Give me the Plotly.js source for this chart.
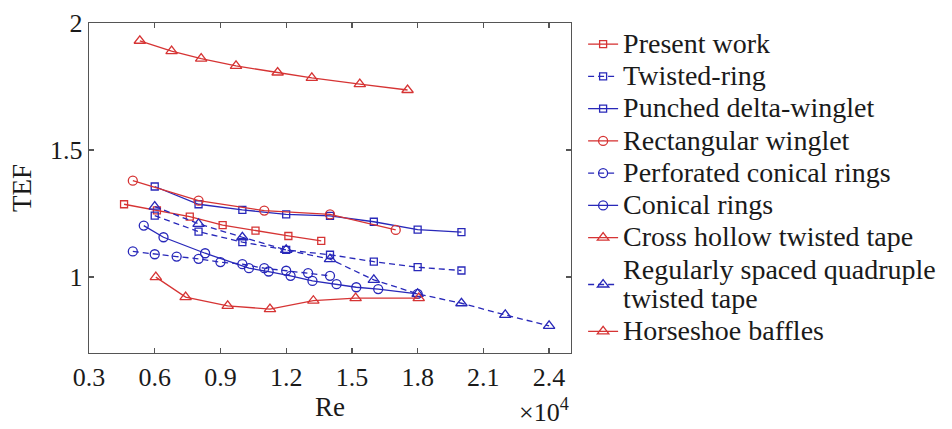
<!DOCTYPE html>
<html>
<head>
<meta charset="utf-8">
<script src="https://cdn.plot.ly/plotly-3.0.1.min.js"></script>
<style>html,body{margin:0;padding:0;background:#fff;}#chart{width:952px;height:429px;}</style>
</head>
<body>
<div id="chart"></div>
<script>
// Re values are in units of 10^4
const rePresent = [0.46, 0.61, 0.76, 0.91, 1.06, 1.21, 1.36];
const tefPresent = [1.286, 1.262, 1.237, 1.204, 1.182, 1.161, 1.142];

const reTwisted = [0.6, 0.8, 1.0, 1.2, 1.4, 1.6, 1.8, 2.0];
const tefTwisted = [1.241, 1.178, 1.137, 1.106, 1.087, 1.060, 1.038, 1.025];

const rePunched = [0.6, 0.8, 1.0, 1.2, 1.4, 1.6, 1.8, 2.0];
const tefPunched = [1.356, 1.286, 1.264, 1.246, 1.240, 1.217, 1.186, 1.176];

const reRect = [0.5, 0.8, 1.1, 1.4, 1.7];
const tefRect = [1.379, 1.300, 1.261, 1.246, 1.185];

const rePerf = [0.5, 0.6, 0.7, 0.8, 0.9, 1.0, 1.1, 1.2, 1.3, 1.4];
const tefPerf = [1.100, 1.089, 1.080, 1.071, 1.058, 1.050, 1.034, 1.024, 1.015, 1.004];

const reConical = [0.55, 0.64, 0.83, 1.03, 1.12, 1.22, 1.32, 1.43, 1.52, 1.62, 1.80];
const tefConical = [1.202, 1.156, 1.093, 1.034, 1.021, 1.004, 0.984, 0.971, 0.959, 0.952, 0.933];

const reCross = [0.532, 0.677, 0.812, 0.971, 1.161, 1.317, 1.536, 1.754];
const tefCross = [1.930, 1.889, 1.860, 1.831, 1.805, 1.784, 1.759, 1.736];

const reQuad = [0.6, 0.8, 1.0, 1.2, 1.4, 1.6, 1.8, 2.0, 2.2, 2.4];
const tefQuad = [1.277, 1.209, 1.156, 1.106, 1.070, 0.988, 0.933, 0.896, 0.850, 0.807];

const reHorse = [0.605, 0.741, 0.933, 1.126, 1.324, 1.517, 1.805];
const tefHorse = [0.999, 0.920, 0.886, 0.873, 0.906, 0.916, 0.916];

const names = [
  'Present work',
  'Twisted-ring',
  'Punched delta-winglet',
  'Rectangular winglet',
  'Perforated conical rings',
  'Conical rings',
  'Cross hollow twisted tape',
  'Regularly spaced quadruple<br>twisted tape',
  'Horseshoe baffles'
];

const SERIF = '"Liberation Serif", "Times New Roman", "DejaVu Serif", serif';
const RED = 'rgb(214,52,52)';
const BLUE = 'rgb(40,40,185)';
const DASH = '6px,4px';

function mk(x, y, name, color, symbol, dashed, size) {
  return {
    x: x, y: y, type: 'scatter', mode: 'lines+markers',
    name: '<span style="font-size:28px">' + name + '</span>',
    line: {color: color, width: 1.3, dash: dashed ? DASH : 'solid'},
    marker: {symbol: symbol, size: size, color: color, line: {color: color, width: 1.3}}
  };
}

const data = [
  mk(rePresent, tefPresent, names[0], RED, 'square-open', false, 7),
  mk(reTwisted, tefTwisted, names[1], BLUE, 'square-open', true, 7),
  mk(rePunched, tefPunched, names[2], BLUE, 'square-open', false, 7),
  mk(reRect, tefRect, names[3], RED, 'circle-open', false, 9),
  mk(rePerf, tefPerf, names[4], BLUE, 'circle-open', true, 9),
  mk(reConical, tefConical, names[5], BLUE, 'circle-open', false, 9),
  mk(reCross, tefCross, names[6], RED, 'triangle-up-open', false, 10),
  mk(reQuad, tefQuad, names[7], BLUE, 'triangle-up-open', true, 10),
  mk(reHorse, tefHorse, names[8], RED, 'triangle-up-open', false, 10)
];

const axisCommon = {
  showline: true, linecolor: 'rgb(85,85,85)', linewidth: 1.3, mirror: 'ticks',
  ticks: 'inside', ticklen: 5, tickcolor: 'rgb(85,85,85)', tickwidth: 1.3,
  showgrid: false, zeroline: false,
  tickfont: {family: SERIF, size: 26, color: '#1a1a1a'}
};

const layout = {
  width: 952, height: 429,
  margin: {l: 89, r: 380, t: 23, b: 76},
  paper_bgcolor: '#fff', plot_bgcolor: '#fff',
  font: {family: SERIF, size: 26, color: '#1a1a1a'},
  xaxis: Object.assign({}, axisCommon, {
    range: [0.3, 2.5], tick0: 0.3, dtick: 0.3, tickformat: '.1f',
    title: {text: 'Re', font: {family: SERIF, size: 27, color: '#1a1a1a'}, standoff: 6}
  }),
  yaxis: Object.assign({}, axisCommon, {
    range: [0.7, 2], tick0: 0, dtick: 0.5,
    title: {text: 'TEF', font: {family: SERIF, size: 27, color: '#1a1a1a'}, standoff: 10}
  }),
  legend: {
    x: 1.023, xanchor: 'left', y: 1, yanchor: 'top',
    font: {family: SERIF, size: 22.5, color: '#1a1a1a'},
    bgcolor: 'rgba(0,0,0,0)', borderwidth: 0, tracegroupgap: 0
  },
  annotations: [{
    xref: 'paper', yref: 'paper', x: 1.0, y: -0.175, xanchor: 'right', yanchor: 'middle',
    text: '×10<sup>4</sup>', showarrow: false,
    font: {family: SERIF, size: 26, color: '#1a1a1a'}
  }],
  showlegend: true
};

Plotly.newPlot('chart', data, layout, {displayModeBar: false, staticPlot: true});
</script>
</body>
</html>
